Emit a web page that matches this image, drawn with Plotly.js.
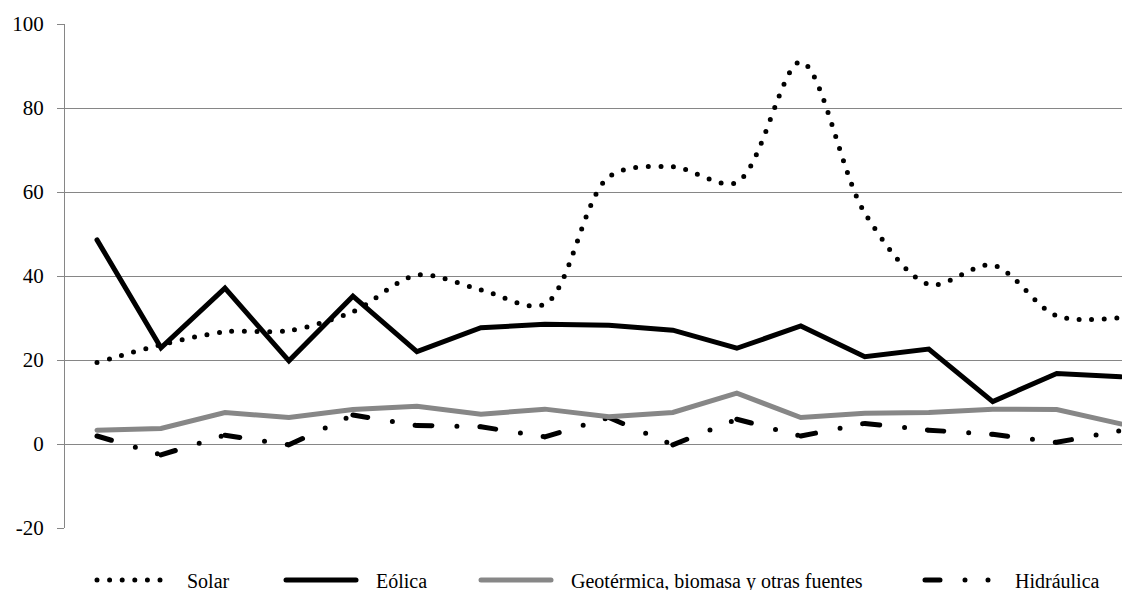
<!DOCTYPE html>
<html><head><meta charset="utf-8">
<script src="https://cdn.plot.ly/plotly-3.0.1.min.js"></script>
<style>
html,body{margin:0;padding:0;background:#fff;}
#chart{width:1142px;height:590px;}
.js-line{stroke-linecap:round !important;}
#chart svg text{font-family:"Liberation Serif","Times New Roman","DejaVu Serif",serif !important;}
</style></head>
<body><div id="chart"></div>
<script>
// Period index (no x labels shown in the original)
const periodos = [0,1,2,3,4,5,6,7,8,9,10,11,12,13,14,15,16];

const solar      = [19.4,23.6,26.7,27.0,31.5,40.2,36.7,33.3,63.6,66.0,62.3,91.0,55.0,38.0,42.6,30.5,30.1];
const eolica     = [48.6,22.9,37.1,19.8,35.2,22.0,27.7,28.5,28.3,27.1,22.8,28.1,20.8,22.6,10.1,16.8,16.0];
const geotermica = [3.3,3.7,7.5,6.3,8.2,9.0,7.1,8.3,6.5,7.5,12.1,6.3,7.3,7.5,8.3,8.2,4.8];
const hidraulica = [1.9,-2.6,2.1,-0.2,6.9,4.4,4.1,1.7,6.3,-0.2,5.9,1.9,4.9,3.3,2.3,0.4,3.2];

const nombres = ["Solar","Eólica","Geotérmica, biomasa y otras fuentes","Hidráulica"];
const yTicks = [-20,0,20,40,60,80,100];

const W = 1142, H = 590;
const SERIF = "Liberation Serif, Times New Roman, DejaVu Serif, serif";
const legendFont = {family:SERIF, size:20, color:"#000"};
const pad = "\u00a0\u00a0\u00a0";

const traces = [];
// Hidráulica: dash pattern restarts at every data point (as in the original), one segment per trace
for (let i = 0; i < periodos.length - 1; i++) {
  traces.push({
    x:periodos.slice(i, i+2), y:hidraulica.slice(i, i+2),
    name:pad+nombres[3], mode:"lines", legend:"legend4", legendgroup:"hid",
    showlegend:i===0, hoverinfo:"skip",
    line:{color:"#000", width:5, dash:"15px,25px,0px,23px,0px,300px"}
  });
}
traces.push(
  {x:periodos, y:geotermica, name:pad+nombres[2], mode:"lines", legend:"legend3",
   line:{color:"#878787", width:5}},
  {x:periodos, y:eolica, name:pad+nombres[1], mode:"lines", legend:"legend2",
   line:{color:"#000", width:5}},
  {x:periodos, y:solar, name:pad+nombres[0], mode:"lines", legend:"legend",
   line:{color:"#000", width:5, dash:"0px,12.6px", shape:"spline", smoothing:0.9}}
);

function lg(px){
  return {x:px/W, xref:"container", y:1-580/H, yref:"container", yanchor:"middle", xanchor:"left",
          orientation:"h", font:legendFont, bgcolor:"rgba(0,0,0,0)", itemwidth:70, borderwidth:0};
}

const layout = {
  width:W, height:H,
  margin:{l:65, r:20, t:24, b:62, pad:0},
  paper_bgcolor:"#fff", plot_bgcolor:"#fff",
  font:{family:SERIF},
  showlegend:true,
  legend:lg(92), legend2:lg(281), legend3:lg(476), legend4:lg(920),
  xaxis:{range:[-0.5,16.02], showgrid:false, zeroline:false, showticklabels:false, ticks:"", showline:false, fixedrange:true},
  yaxis:{range:[-20,100], tickvals:yTicks, ticktext:yTicks.map(String), showgrid:true, gridcolor:"#868686", gridwidth:1,
         zeroline:false, showline:true, linecolor:"#868686", linewidth:1,
         ticks:"outside", ticklen:7, tickcolor:"#868686", tickwidth:1, ticklabelstandoff:9,
         tickfont:{family:SERIF, size:21, color:"#000"}, fixedrange:true}
};

Plotly.newPlot("chart", traces, layout, {displayModeBar:false, staticPlot:true});
</script></body></html>
